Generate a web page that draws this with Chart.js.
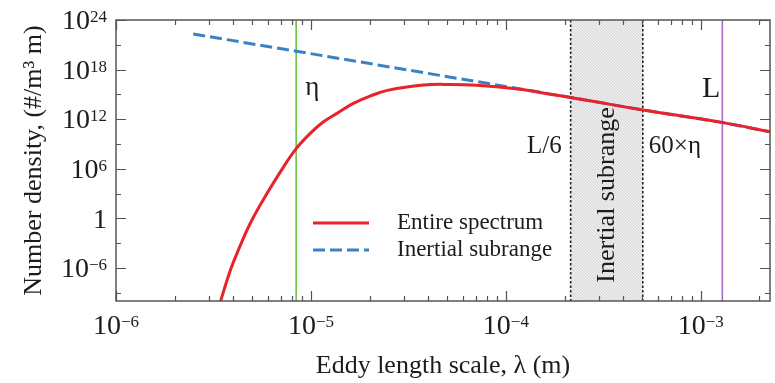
<!DOCTYPE html>
<html>
<head>
<meta charset="utf-8">
<script src="https://cdn.jsdelivr.net/npm/chart.js@4/dist/chart.umd.min.js"></script>
<style>
  html, body { margin: 0; padding: 0; background: #fff; }
  canvas { display: block; }
</style>
</head>
<body>
<canvas id="chart" width="775" height="383"></canvas>
<script>
// Eddy number-density spectrum versus eddy length scale (log-log)

// Entire spectrum
const entireX = [3.39e-6, 3.45e-6, 3.86e-6, 4.17e-6, 4.88e-6, 5.95e-6, 7.24e-6, 8.36e-6, 9.92e-6,
                 1.16e-5, 1.36e-5, 1.65e-5, 2.01e-5, 2.5e-5, 3.78e-5, 5.18e-5, 7.1e-5, 1.18e-4,
                 1.6e-4, 2.15e-4, 4.88e-4, 1.28e-3, 2.265e-3];
const entireY = [2.3e-11, 1.2e-10, 5.2e-7, 5.5e-5, 0.24, 1.0e3, 1.7e6, 2.4e8, 1.9e10,
                 4.8e11, 5.0e12, 8.1e13, 6.2e14, 3.3e15, 1.35e16, 1.6e16, 1.25e16, 4.1e15,
                 1.3e15, 4.3e14, 1.5e13, 4.1e11, 2.95e10];

// Inertial subrange power law
const inertialX = [2.49e-6, 8.3e-6, 2.15e-4, 4.88e-4, 1.28e-3, 2.265e-3];
const inertialY = [2.0e22, 1.76e20, 4.3e14, 1.5e13, 4.1e11, 2.95e10];

const seriesNames = ['Entire spectrum', 'Inertial subrange'];

// Characteristic length scales (m)
const markerNames = ['η', 'L/6', '60×η', 'L'];
const markerX = [8.4e-6, 2.15e-4, 5.04e-4, 1.29e-3];
const bandLabel = 'Inertial subrange';

// Axis ticks
const xLimits = [1e-6, 2.265e-3];
const yLimits = [1e-10, 1e24];
const xTickValues = [1e-6, 1e-5, 1e-4, 1e-3];
const xTickBases = ['10', '10', '10', '10'];
const xTickExponents = ['−6', '−5', '−4', '−3'];
const yTickValues = [1e-6, 1, 1e6, 1e12, 1e18, 1e24];
const yTickBases = ['10', '1', '10', '10', '10', '10'];
const yTickExponents = ['−6', '', '6', '12', '18', '24'];
const yMinorTicks = [1e-9, 1e-3, 1e3, 1e9, 1e15, 1e21];

const xTitle = 'Eddy length scale, λ (m)';
const yTitle = 'Number density, (#/m³ m)';

const SERIF = '"Liberation Serif", "Times New Roman", serif';
const INK = '#1c1c1c';
const AXIS = '#555555';
const RED = '#e8232a';
const BLUE = '#3b82c4';
const markerStyles = [
  { color: '#6cc04a', dash: [], width: 1.6 },
  { color: '#222222', dash: [2.5, 2], width: 1.6 },
  { color: '#222222', dash: [2.5, 2], width: 1.6 },
  { color: '#b06cc8', dash: [], width: 1.6 }
];

function xMinorTicks() {
  const out = [];
  for (let e = -6; e <= -3; e++) {
    for (let m = 2; m <= 9; m++) {
      const v = m * Math.pow(10, e);
      if (v < xLimits[1]) out.push(v);
    }
  }
  return out;
}

function powerLabel(ctx, base, exp, x, y, align, size, expSize) {
  ctx.font = size + 'px ' + SERIF;
  const wb = ctx.measureText(base).width;
  ctx.font = expSize + 'px ' + SERIF;
  const we = exp ? ctx.measureText(exp).width : 0;
  const total = wb + we;
  const left = align === 'right' ? x - total : x - total / 2;
  const baseline = y + 0.33 * size;
  ctx.textAlign = 'left';
  ctx.textBaseline = 'alphabetic';
  ctx.fillStyle = INK;
  ctx.font = size + 'px ' + SERIF;
  ctx.fillText(base, left, baseline);
  if (exp) {
    ctx.font = expSize + 'px ' + SERIF;
    ctx.fillText(exp, left + wb, baseline - 0.66 * size + 0.66 * expSize);
  }
}

let bandPattern = null;
function getBandPattern(ctx) {
  if (bandPattern) return bandPattern;
  const c = document.createElement('canvas');
  c.width = 3; c.height = 3;
  const p = c.getContext('2d');
  p.fillStyle = '#ebebeb';
  p.fillRect(0, 0, 3, 3);
  p.fillStyle = '#d9d9d9';
  p.fillRect(0, 0, 1, 1);
  p.fillRect(1, 1, 1, 1);
  p.fillRect(2, 2, 1, 1);
  bandPattern = ctx.createPattern(c, 'repeat');
  return bandPattern;
}

const decorations = {
  id: 'decorations',
  beforeDatasetsDraw(chart) {
    const { ctx, chartArea: a, scales: { x } } = chart;
    ctx.save();
    // shaded inertial band between L/6 and 60η
    const b0 = x.getPixelForValue(markerX[1]);
    const b1 = x.getPixelForValue(markerX[2]);
    ctx.fillStyle = getBandPattern(ctx);
    ctx.fillRect(b0, a.top, b1 - b0, a.bottom - a.top);

    ctx.save();
    ctx.translate((b0 + b1) / 2, 195);
    ctx.rotate(-Math.PI / 2);
    ctx.fillStyle = INK;
    ctx.font = '26px ' + SERIF;
    ctx.textAlign = 'center';
    ctx.textBaseline = 'middle';
    ctx.fillText(bandLabel, 0, 0);
    ctx.restore();

    // vertical length-scale markers
    markerX.forEach((v, i) => {
      const px = x.getPixelForValue(v);
      const s = markerStyles[i];
      ctx.beginPath();
      ctx.strokeStyle = s.color;
      ctx.lineWidth = s.width;
      ctx.setLineDash(s.dash);
      ctx.moveTo(px, a.top);
      ctx.lineTo(px, a.bottom);
      ctx.stroke();
    });
    ctx.setLineDash([]);
    ctx.restore();
  },
  afterDatasetsDraw(chart) {
    const { ctx, chartArea: a, scales: { x, y } } = chart;
    ctx.save();

    // frame
    ctx.strokeStyle = AXIS;
    ctx.lineWidth = 1.5;
    ctx.strokeRect(a.left, a.top, a.right - a.left, a.bottom - a.top);

    // inward ticks on all four sides
    ctx.lineWidth = 1.2;
    const xt = (v, len) => {
      const px = Math.round(x.getPixelForValue(v)) + 0.5;
      ctx.beginPath();
      ctx.moveTo(px, a.bottom); ctx.lineTo(px, a.bottom - len);
      ctx.moveTo(px, a.top); ctx.lineTo(px, a.top + len);
      ctx.stroke();
    };
    const yt = (v, len) => {
      const py = Math.round(y.getPixelForValue(v)) + 0.5;
      ctx.beginPath();
      ctx.moveTo(a.left, py); ctx.lineTo(a.left + len, py);
      ctx.moveTo(a.right, py); ctx.lineTo(a.right - len, py);
      ctx.stroke();
    };
    xTickValues.forEach(v => xt(v, 10));
    xMinorTicks().forEach(v => xt(v, 5));
    yTickValues.forEach(v => yt(v, 10));
    yMinorTicks.forEach(v => yt(v, 5));

    // tick labels
    xTickValues.forEach((v, i) => {
      powerLabel(ctx, xTickBases[i], xTickExponents[i], x.getPixelForValue(v), 325, 'center', 28, 17);
    });
    yTickValues.forEach((v, i) => {
      powerLabel(ctx, yTickBases[i], yTickExponents[i], 107, y.getPixelForValue(v), 'right', 28, 17);
    });

    // axis titles
    ctx.fillStyle = INK;
    ctx.font = '26px ' + SERIF;
    ctx.textAlign = 'center';
    ctx.textBaseline = 'alphabetic';
    ctx.fillText(xTitle, (a.left + a.right) / 2, 373);
    ctx.save();
    ctx.translate(41, (a.top + a.bottom) / 2);
    ctx.rotate(-Math.PI / 2);
    ctx.font = '26px ' + SERIF;
    ctx.fillText(yTitle, 0, 0);
    ctx.restore();

    // length-scale labels
    const mp = markerX.map(v => x.getPixelForValue(v));
    ctx.font = '27px ' + SERIF;
    ctx.textAlign = 'left';
    ctx.fillText(markerNames[0], mp[0] + 9, 95);
    ctx.font = '25px ' + SERIF;
    ctx.textAlign = 'right';
    ctx.fillText(markerNames[1], mp[1] - 9, 153);
    ctx.textAlign = 'left';
    ctx.fillText(markerNames[2], mp[2] + 6, 153);
    ctx.font = '30px ' + SERIF;
    ctx.textAlign = 'right';
    ctx.fillText(markerNames[3], mp[3] - 2, 97);

    // legend
    const ds = chart.data.datasets;
    const legendY = [223, 250];
    ds.forEach((d, i) => {
      ctx.beginPath();
      ctx.strokeStyle = d.borderColor;
      ctx.lineWidth = d.borderWidth;
      ctx.setLineDash(d.borderDash || []);
      ctx.moveTo(313, legendY[i]);
      ctx.lineTo(369, legendY[i]);
      ctx.stroke();
      ctx.setLineDash([]);
      ctx.fillStyle = INK;
      ctx.font = '23px ' + SERIF;
      ctx.textAlign = 'left';
      ctx.textBaseline = 'middle';
      ctx.fillText(d.label, 397, legendY[i]);
    });
    ctx.restore();
  }
};

const toPoints = (xs, ys) => xs.map((v, i) => ({ x: v, y: ys[i] }));

new Chart(document.getElementById('chart'), {
  type: 'line',
  data: {
    datasets: [
      {
        label: seriesNames[0],
        data: toPoints(entireX, entireY),
        borderColor: RED,
        borderWidth: 3,
        pointRadius: 0,
        tension: 0.4,
        clip: 0
      },
      {
        label: seriesNames[1],
        data: toPoints(inertialX, inertialY),
        borderColor: BLUE,
        borderWidth: 3,
        borderDash: [12, 5],
        pointRadius: 0,
        clip: 0
      }
    ]
  },
  options: {
    responsive: false,
    animation: false,
    devicePixelRatio: 1,
    layout: { padding: { left: 116, top: 20, right: 5, bottom: 82 } },
    plugins: { legend: { display: false }, tooltip: { enabled: false } },
    scales: {
      x: { type: 'logarithmic', min: xLimits[0], max: xLimits[1], display: false },
      y: { type: 'logarithmic', min: yLimits[0], max: yLimits[1], display: false }
    }
  },
  plugins: [decorations]
});
</script>
</body>
</html>
